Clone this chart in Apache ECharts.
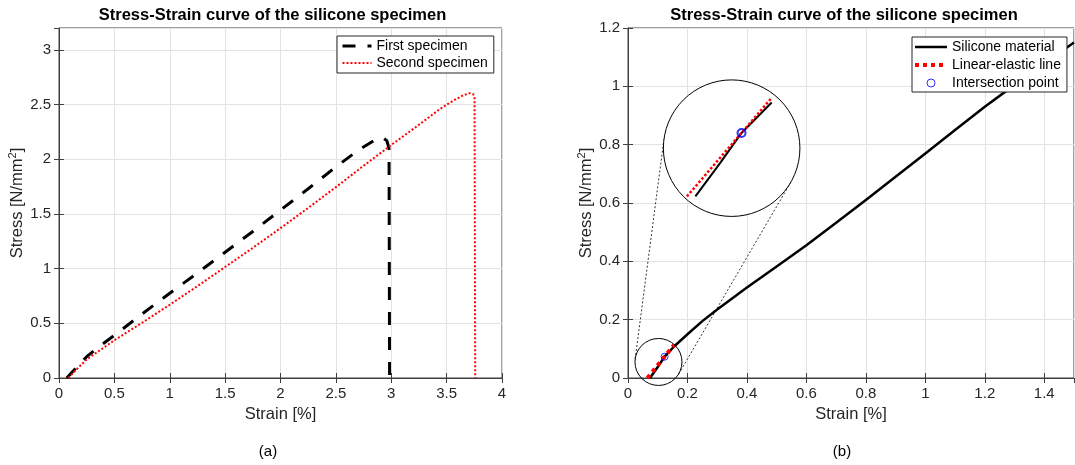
<!DOCTYPE html>
<html>
<head>
<meta charset="utf-8">
<script src="https://cdn.jsdelivr.net/npm/echarts@6/dist/echarts.min.js"></script>
<style>
  html, body { margin: 0; padding: 0; background: #ffffff; }
  #chart { width: 1075px; height: 465px; }
</style>
</head>
<body>
<div id="chart"></div>
<script>
// ---- Panel (a): tensile tests of two silicone specimens ----
const firstStrain  = [0.07, 0.16, 0.25, 0.36, 0.50, 0.75, 1.00, 1.25, 1.50, 1.75, 2.00, 2.25, 2.50, 2.70, 2.85, 2.92, 2.96, 2.98, 2.985];
const firstStress  = [0,    0.10, 0.195, 0.285, 0.39, 0.585, 0.775, 0.96, 1.15, 1.34, 1.535, 1.73, 1.93, 2.08, 2.175, 2.20, 2.17, 2.10, 0];

const secondStrain = [0.085, 0.15, 0.25, 0.50, 0.75, 1.00, 1.25, 1.50, 1.75, 2.00, 2.25, 2.50, 2.75, 3.00, 3.25, 3.44, 3.55, 3.65, 3.71, 3.74, 3.752, 3.758];
const secondStress = [0,     0.07, 0.17, 0.345, 0.505, 0.67, 0.84, 1.015, 1.19, 1.37, 1.555, 1.745, 1.94, 2.13, 2.315, 2.46, 2.53, 2.585, 2.605, 2.595, 2.56, 0];

// ---- Panel (b): silicone material with its linear-elastic fit ----
const siliconeStrain = [0.074, 0.10, 0.123, 0.155, 0.20, 0.25, 0.30, 0.40, 0.50, 0.60, 0.70, 0.80, 0.90, 1.00, 1.10, 1.20, 1.30, 1.40, 1.50];
const siliconeStress = [0,     0.038, 0.073, 0.108, 0.15, 0.195, 0.235, 0.31, 0.382, 0.455, 0.532, 0.61, 0.69, 0.77, 0.85, 0.93, 1.005, 1.078, 1.15];

const elasticStrain = [0.065, 0.155];
const elasticStress = [0,     0.1134];

const intersectionStrain = [0.123];
const intersectionStress = [0.073];

// Axis ranges and tick steps
const axisA = { xMax: 4,   xStep: 0.5, yMax: 3.2, yStep: 0.5 };
const axisB = { xMax: 1.5, xStep: 0.2, yMax: 1.2, yStep: 0.2 };

// Magnified detail of panel (b): lens around the origin, enlarged view up-left
const lens = { center: [0.1025, 0.055], radius: 0.079 };          // strain units
const magnifier = { center: [0.3486, 0.788], radius: 0.2296 };    // strain units
const detailStrainRange = [0.040, 0.185];
const detailStressRange = [-0.023, 0.134];

const zip = (xs, ys) => xs.map((x, i) => [x, ys[i]]);

const FONT = "'Liberation Sans', Arial, Helvetica, sans-serif";
const INK = '#262626';
const FRAME = '#404040';
const GRIDLINE = '#e2e2e2';
const TICK_FONT = 15;
const LABEL_FONT = 16.5;

function mainAxis(gridIndex, max, step, showMax, name, nameGap, extra) {
  return Object.assign({
    type: 'value', gridIndex: gridIndex, min: 0, max: max, interval: step,
    name: name, nameLocation: 'middle', nameGap: nameGap,
    nameTextStyle: { color: INK, fontSize: LABEL_FONT, fontFamily: FONT },
    axisLine: { show: true, onZero: false, lineStyle: { color: FRAME, width: 1 } },
    axisTick: { show: true, inside: true, length: 5, lineStyle: { color: FRAME, width: 1 } },
    axisLabel: { show: true, color: INK, fontSize: TICK_FONT, fontFamily: FONT, margin: 8, showMinLabel: true, showMaxLabel: showMax },
    splitLine: { show: true, lineStyle: { color: GRIDLINE, width: 1 } }
  }, extra || {});
}

function mirrorAxis(gridIndex, position, max, step) {
  return {
    type: 'value', gridIndex: gridIndex, position: position, min: 0, max: max, interval: step,
    axisLine: { show: false },
    axisTick: { show: true, inside: true, length: 5, lineStyle: { color: FRAME, width: 1 } },
    axisLabel: { show: false },
    splitLine: { show: false }
  };
}

const stressName = '{n|Stress [N/mm}{s|2}{n|]}';
const stressRich = {
  n: { fontSize: LABEL_FONT, fontFamily: FONT, color: INK, lineHeight: 20 },
  s: { fontSize: 11, fontFamily: FONT, color: INK, verticalAlign: 'top', lineHeight: 20 }
};

// Legend samples show only the line pattern (no marker in the middle)
const noMarker = { color: 'transparent', borderWidth: 0, opacity: 0 };

const chart = echarts.init(document.getElementById('chart'), null, { renderer: 'canvas' });

const option = {
  animation: false,
  backgroundColor: '#ffffff',
  textStyle: { fontFamily: FONT },
  grid: [
    { left: 59,  top: 28, width: 443, height: 350, show: true, borderColor: FRAME, borderWidth: 1, backgroundColor: 'transparent', containLabel: false, outerBoundsMode: 'none' },
    { left: 628, top: 28, width: 446, height: 350, show: true, borderColor: FRAME, borderWidth: 1, backgroundColor: 'transparent', containLabel: false, outerBoundsMode: 'none' }
  ],
  xAxis: [
    mainAxis(0, axisA.xMax, axisA.xStep, true, 'Strain [%]', 26, { position: 'bottom' }),
    mirrorAxis(0, 'top', axisA.xMax, axisA.xStep),
    mainAxis(1, axisB.xMax, axisB.xStep, false, 'Strain [%]', 26, { position: 'bottom' }),
    mirrorAxis(1, 'top', axisB.xMax, axisB.xStep)
  ],
  yAxis: [
    mainAxis(0, axisA.yMax, axisA.yStep, false, stressName, 30, { position: 'left', nameTextStyle: { rich: stressRich } }),
    mirrorAxis(0, 'right', axisA.yMax, axisA.yStep),
    mainAxis(1, axisB.yMax, axisB.yStep, true, stressName, 30, { position: 'left', nameTextStyle: { rich: stressRich } }),
    mirrorAxis(1, 'right', axisB.yMax, axisB.yStep)
  ],
  legend: [
    {
      orient: 'vertical', left: 337, top: 36, padding: [3, 6, 3, 4],
      itemGap: 3, itemWidth: 29, itemHeight: 8,
      backgroundColor: '#ffffff', borderColor: INK, borderWidth: 1, borderRadius: 0,
      selectedMode: false,
      textStyle: { fontSize: 14, color: '#000', fontFamily: FONT },
      data: [
        { name: 'First specimen', itemStyle: noMarker, lineStyle: { color: '#000', width: 3, type: [13, 12] } },
        { name: 'Second specimen', itemStyle: noMarker, lineStyle: { color: '#ff0000', width: 2, type: [2, 2] } }
      ]
    },
    {
      orient: 'vertical', left: 912, top: 37, padding: [3, 6, 2, 1],
      itemGap: 4, itemWidth: 32, itemHeight: 8,
      backgroundColor: '#ffffff', borderColor: INK, borderWidth: 1, borderRadius: 0,
      selectedMode: false,
      textStyle: { fontSize: 14, color: '#000', fontFamily: FONT },
      data: [
        { name: 'Silicone material', itemStyle: noMarker, lineStyle: { color: '#000', width: 2.5, type: 'solid' } },
        { name: 'Linear-elastic line', itemStyle: noMarker, lineStyle: { color: '#ff0000', width: 4, type: [4, 4] } },
        { name: 'Intersection point', icon: 'circle', itemStyle: { color: 'transparent', borderColor: '#0000ff', borderWidth: 1 } }
      ]
    }
  ],
  series: [
    {
      name: 'First specimen', type: 'line', xAxisIndex: 0, yAxisIndex: 0,
      data: zip(firstStrain, firstStress), symbol: 'none', showSymbol: false,
      lineStyle: { color: '#000', width: 3, type: [13, 12], cap: 'butt' },
      itemStyle: { color: '#000' }, emphasis: { disabled: true }, z: 3
    },
    {
      name: 'Second specimen', type: 'line', xAxisIndex: 0, yAxisIndex: 0,
      data: zip(secondStrain, secondStress), symbol: 'none', showSymbol: false,
      lineStyle: { color: '#ff0000', width: 2, type: [2, 2], cap: 'butt' },
      itemStyle: { color: '#ff0000' }, emphasis: { disabled: true }, z: 3
    },
    {
      name: 'Silicone material', type: 'line', xAxisIndex: 2, yAxisIndex: 2,
      data: zip(siliconeStrain, siliconeStress), symbol: 'none', showSymbol: false,
      lineStyle: { color: '#000', width: 2.5, join: 'round' },
      itemStyle: { color: '#000' }, emphasis: { disabled: true }, z: 3
    },
    {
      name: 'Linear-elastic line', type: 'line', xAxisIndex: 2, yAxisIndex: 2,
      data: zip(elasticStrain, elasticStress), symbol: 'none', showSymbol: false,
      lineStyle: { color: '#ff0000', width: 4, type: [4, 4], cap: 'butt' },
      itemStyle: { color: '#ff0000' }, emphasis: { disabled: true }, z: 3
    },
    {
      name: 'Intersection point', type: 'scatter', xAxisIndex: 2, yAxisIndex: 2,
      data: zip(intersectionStrain, intersectionStress), symbol: 'circle', symbolSize: 7,
      itemStyle: { color: 'transparent', borderColor: '#0000ff', borderWidth: 1 },
      emphasis: { disabled: true }, z: 4
    }
  ]
};

chart.setOption(option);

// ---- Magnified detail: placed from data coordinates of panel (b) ----
const bFinder = { xAxisIndex: 2, yAxisIndex: 2 };
const lensPx = chart.convertToPixel(bFinder, lens.center);
const lensR = chart.convertToPixel(bFinder, [lens.center[0] + lens.radius, lens.center[1]])[0] - lensPx[0];
const magPx = chart.convertToPixel(bFinder, magnifier.center);
const magR = chart.convertToPixel(bFinder, [magnifier.center[0] + magnifier.radius, magnifier.center[1]])[0] - magPx[0];

// External tangents joining the lens with the enlarged view
const dx = magPx[0] - lensPx[0], dy = magPx[1] - lensPx[1];
const dist = Math.hypot(dx, dy);
const base = Math.atan2(dy, dx);
const spread = Math.acos(-(magR - lensR) / dist);
const tangents = [base + spread, base - spread].map(function (t, i) {
  const c = Math.cos(t), s = Math.sin(t);
  return {
    type: 'line', id: 'connector' + i, silent: true, z: 10,
    shape: { x1: lensPx[0] + lensR * c, y1: lensPx[1] + lensR * s, x2: magPx[0] + magR * c, y2: magPx[1] + magR * s },
    style: { stroke: '#000', lineWidth: 0.8, lineDash: [2, 2] }
  };
});

const detailData = zip(siliconeStrain, siliconeStress).filter(function (p) {
  return p[0] <= elasticStrain[elasticStrain.length - 1];
});

chart.setOption({
  grid: [{}, {}, {
    left: magPx[0] - magR, top: magPx[1] - magR, width: 2 * magR, height: 2 * magR,
    show: false, containLabel: false, outerBoundsMode: 'none'
  }],
  xAxis: [{}, {}, {}, {}, { type: 'value', gridIndex: 2, min: detailStrainRange[0], max: detailStrainRange[1], show: false }],
  yAxis: [{}, {}, {}, {}, { type: 'value', gridIndex: 2, min: detailStressRange[0], max: detailStressRange[1], show: false }],
  series: [{}, {}, {}, {}, {},
    {
      name: 'Silicone material detail', type: 'line', xAxisIndex: 4, yAxisIndex: 4,
      data: detailData, symbol: 'none', showSymbol: false, clip: false,
      lineStyle: { color: '#000', width: 2 }, emphasis: { disabled: true }, z: 20
    },
    {
      name: 'Linear-elastic detail', type: 'line', xAxisIndex: 4, yAxisIndex: 4,
      data: zip(elasticStrain, elasticStress), symbol: 'none', showSymbol: false, clip: false,
      lineStyle: { color: '#ff0000', width: 2.5, type: [2.5, 2], cap: 'butt' }, emphasis: { disabled: true }, z: 21
    },
    {
      name: 'Intersection detail', type: 'scatter', xAxisIndex: 4, yAxisIndex: 4,
      data: zip(intersectionStrain, intersectionStress), symbol: 'circle', symbolSize: 8, clip: false,
      itemStyle: { color: 'transparent', borderColor: '#0000ff', borderWidth: 2 }, emphasis: { disabled: true }, z: 22
    }
  ],
  graphic: {
    elements: [
      {
        type: 'text', id: 'titleA', x: 272.5, y: 15, silent: true,
        style: { text: 'Stress-Strain curve of the silicone specimen', font: 'bold 16.5px ' + FONT, fill: '#000', align: 'center', verticalAlign: 'middle' }
      },
      {
        type: 'text', id: 'titleB', x: 844, y: 15, silent: true,
        style: { text: 'Stress-Strain curve of the silicone specimen', font: 'bold 16.5px ' + FONT, fill: '#000', align: 'center', verticalAlign: 'middle' }
      },
      {
        type: 'text', id: 'captionA', x: 268, y: 452, silent: true,
        style: { text: '(a)', font: '15px ' + FONT, fill: '#000', align: 'center', verticalAlign: 'middle' }
      },
      {
        type: 'text', id: 'captionB', x: 842, y: 452, silent: true,
        style: { text: '(b)', font: '15px ' + FONT, fill: '#000', align: 'center', verticalAlign: 'middle' }
      },
      {
        type: 'circle', id: 'lens', silent: true, z: 10,
        shape: { cx: lensPx[0], cy: lensPx[1], r: lensR },
        style: { fill: 'none', stroke: '#000', lineWidth: 1 }
      },
      {
        type: 'circle', id: 'magnifier', silent: true, z: 15,
        shape: { cx: magPx[0], cy: magPx[1], r: magR },
        style: { fill: '#ffffff', stroke: '#000', lineWidth: 1 }
      }
    ].concat(tangents)
  }
});
</script>
</body>
</html>
